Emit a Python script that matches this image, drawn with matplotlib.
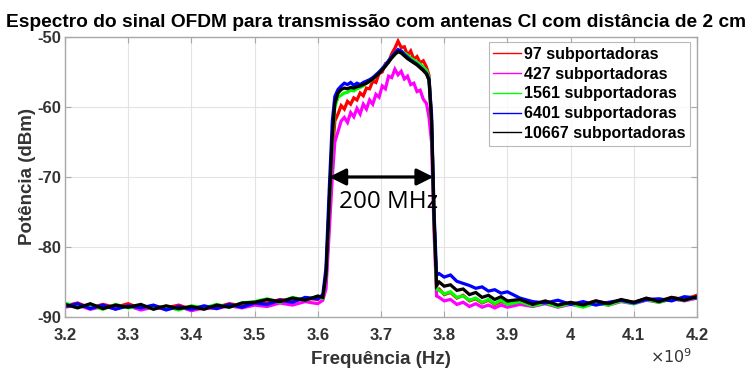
import matplotlib
matplotlib.use("Agg")
import matplotlib.pyplot as plt
from matplotlib.ticker import FuncFormatter, MultipleLocator

plt.rcParams['font.family'] = ['Liberation Sans', 'DejaVu Sans']
plt.rcParams['axes.unicode_minus'] = False

title = "Espectro do sinal OFDM para transmissão com antenas CI com distância de 2 cm"
xlabel = "Frequência (Hz)"
ylabel = "Potência (dBm)"
labels = ["97 subportadoras", "427 subportadoras", "1561 subportadoras",
          "6401 subportadoras", "10667 subportadoras"]
colors = ["#ff0000", "#ff00ff", "#00ff00", "#0000ff", "#000000"]

freq_ghz = [
    3.20, 3.22, 3.24, 3.26, 3.28, 3.30, 3.32, 3.34, 3.36, 3.38, 3.40, 3.42, 3.44,
    3.46, 3.48, 3.50, 3.52, 3.54, 3.56, 3.58, 3.60, 3.608,
    3.613, 3.618, 3.623, 3.627,
    3.632, 3.637, 3.642, 3.647, 3.652, 3.657, 3.662, 3.667, 3.672, 3.677, 3.682,
    3.687, 3.692, 3.697, 3.702, 3.707, 3.712, 3.717, 3.722, 3.727, 3.732, 3.737,
    3.742, 3.747, 3.752, 3.757, 3.762, 3.767, 3.772, 3.776,
    3.780, 3.784, 3.788,
    3.792, 3.80, 3.81, 3.82, 3.83, 3.84, 3.85, 3.86, 3.87, 3.88, 3.89, 3.90,
    3.92, 3.94, 3.96, 3.98, 4.00, 4.02, 4.04, 4.06, 4.08, 4.10, 4.12, 4.14,
    4.16, 4.18, 4.20,
]

p_97 = [
    -88.4, -88.0, -88.7, -88.2, -88.6, -88.1, -88.8, -88.4, -88.7, -88.3, -88.9,
    -88.5, -88.6, -88.1, -88.4, -87.9, -88.0, -87.5, -87.7, -87.3, -87.5, -87.0,
    -85.0, -76.0, -67.0, -62.0,
    -61.0, -59.8, -60.3, -59.2, -59.6, -58.7, -59.0, -58.0, -58.4, -57.3, -57.4,
    -56.3, -56.5, -55.2, -55.0, -53.8, -53.6, -52.4, -51.6, -50.6, -51.5, -51.4,
    -52.6, -52.0, -53.2, -52.8, -53.7, -53.4, -54.3, -55.5,
    -62.0, -76.0, -86.0,
    -86.0, -86.8, -86.5, -87.3, -86.9, -87.7, -87.4, -88.0, -87.6, -88.2, -87.8,
    -88.1, -88.0, -88.3, -87.9, -88.4, -88.0, -88.2, -87.7, -88.1, -87.6, -87.9,
    -87.4, -87.7, -87.2, -87.5, -86.9,
]
p_427 = [
    -88.6, -88.3, -88.9, -88.5, -88.8, -88.4, -89.0, -88.6, -88.9, -88.5, -89.1,
    -88.7, -88.8, -88.4, -88.7, -88.3, -88.5, -88.0, -88.3, -87.8, -88.1, -87.6,
    -86.0, -78.0, -70.0, -65.0,
    -63.5, -62.0, -61.5, -62.2, -60.8, -61.4, -60.2, -61.0, -59.6, -60.3, -59.0,
    -59.6, -58.2, -58.6, -57.0, -57.4, -55.6, -55.8, -54.6, -55.4, -54.9, -56.0,
    -55.6, -56.8, -56.6, -57.8, -57.6, -58.9, -59.5, -61.5,
    -65.0, -78.0, -87.0,
    -87.2, -87.7, -87.5, -88.2, -87.9, -88.5, -88.1, -88.6, -88.3, -88.7, -88.3,
    -88.6, -88.2, -88.5, -88.1, -88.6, -88.2, -88.5, -88.0, -88.3, -87.8, -88.1,
    -87.6, -87.9, -87.4, -87.7, -87.3,
]
p_1561 = [
    -88.0, -88.6, -88.3, -88.9, -88.2, -88.7, -88.4, -88.8, -88.5, -89.0, -88.4,
    -88.7, -88.2, -88.6, -88.0, -87.8, -87.4, -87.9, -87.2, -87.6, -87.1, -87.3,
    -84.0, -74.0, -65.0, -60.0,
    -58.6, -58.3, -58.0, -57.9, -57.6, -57.7, -57.4, -57.2, -57.0, -56.6, -56.4,
    -56.0, -55.5, -55.0, -54.6, -54.0, -53.4, -52.8, -52.3, -52.0, -52.0, -52.3,
    -52.6, -53.0, -53.3, -53.6, -53.9, -54.3, -54.8, -55.8,
    -62.0, -76.0, -86.0,
    -86.2, -86.7, -86.4, -87.2, -87.0, -87.6, -87.3, -87.9, -87.5, -88.1, -87.6,
    -88.2, -87.8, -88.4, -88.0, -88.5, -88.1, -88.6, -88.0, -88.3, -87.7, -88.1,
    -87.5, -87.9, -87.4, -87.6, -87.2,
]
p_6401 = [
    -88.5, -88.1, -88.8, -88.3, -88.9, -88.4, -88.7, -88.3, -89.0, -88.5, -88.9,
    -88.4, -88.8, -88.2, -88.6, -88.0, -88.2, -87.6, -87.9, -87.2, -87.4, -86.8,
    -83.0, -72.0, -62.0, -58.5,
    -57.5, -57.0, -56.6, -56.8, -56.5, -56.9, -56.6, -56.8, -56.5, -56.3, -56.1,
    -55.8, -55.4, -55.0, -54.5, -54.0, -53.4, -52.8, -52.3, -51.8, -52.0, -52.5,
    -52.9, -53.3, -53.6, -53.9, -54.3, -54.7, -55.2, -56.0,
    -61.0, -75.0, -84.0,
    -83.8, -84.3, -84.0, -84.9, -85.2, -85.5, -85.9, -85.7, -86.3, -86.1, -86.6,
    -86.4, -87.3, -87.8, -88.0, -87.6, -88.2, -87.8, -88.3, -87.9, -87.6, -88.0,
    -87.5, -87.4, -87.7, -87.1, -87.3,
]
p_10667 = [
    -88.2, -88.7, -88.1, -88.8, -88.3, -88.6, -88.2, -88.9, -88.4, -88.8, -88.5,
    -88.9, -88.3, -88.6, -88.0, -87.9, -87.5, -87.8, -87.3, -87.6, -87.0, -87.2,
    -84.0, -74.0, -64.0, -59.5,
    -58.0, -57.5, -57.3, -57.4, -57.2, -57.3, -57.1, -57.0, -56.8, -56.6, -56.3,
    -56.0, -55.6, -55.2, -54.7, -54.2, -53.6, -53.0, -52.5, -52.1, -52.3, -52.7,
    -53.1, -53.4, -53.7, -54.0, -54.4, -54.8, -55.3, -56.2,
    -62.0, -76.0, -85.5,
    -85.0, -85.6, -85.4, -86.2, -86.0, -86.8, -86.5, -87.2, -86.9, -87.5, -87.1,
    -87.7, -87.5, -88.2, -87.7, -88.3, -87.9, -88.3, -87.7, -88.1, -87.5, -87.9,
    -87.3, -87.8, -87.2, -87.6, -87.1,
]
series = [p_97, p_427, p_1561, p_6401, p_10667]

bw_start_ghz, bw_end_ghz, bw_level = 3.618, 3.783, -70
bw_label = "200 MHz"

fig = plt.figure(figsize=(7.53, 3.68), dpi=100)
ax = fig.add_axes([0.0863, 0.1386, 0.8393, 0.7609])

f_hz = [f * 1e9 for f in freq_ghz]
for vals, c, lab in zip(series, colors, labels):
    ax.plot(f_hz, vals, color=c, lw=2.3, label=lab, solid_joinstyle='miter')

ax.set_xlim(3.2e9, 4.2e9)
ax.set_ylim(-90, -50)
ax.xaxis.set_major_locator(MultipleLocator(0.1e9))
ax.yaxis.set_major_locator(MultipleLocator(10))
ax.xaxis.set_major_formatter(FuncFormatter(lambda v, p: f"{v/1e9:g}"))
ax.grid(True, color="#e3e3e3", lw=0.8)
ax.set_axisbelow(True)
for s in ax.spines.values():
    s.set_color("#a8a8a8")
    s.set_linewidth(1.0)
ax.tick_params(direction='in', length=4, color="#a8a8a8", labelcolor="#333333",
               labelsize=12, top=True, right=True)
ax.tick_params(axis='x', pad=8)
ax.tick_params(axis='y', pad=3)
for t in ax.get_xticklabels() + ax.get_yticklabels():
    t.set_fontweight('bold')

ax.set_xlabel(xlabel, fontsize=13.5, fontweight='bold', color="#333333", labelpad=6)
ax.set_ylabel(ylabel, fontsize=13.5, fontweight='bold', color="#333333", labelpad=1)
ax.text(0.992, -0.163, r"$\times10^{9}$", transform=ax.transAxes, ha='right',
        va='baseline', fontsize=11.5, color="#333333")

fig.text(0.5, 0.94, title, ha='center', va='center', fontsize=13.8,
         fontweight='bold', color="#000000")

ax.annotate("", xy=(bw_end_ghz * 1e9, bw_level), xytext=(bw_start_ghz * 1e9, bw_level),
            arrowprops=dict(arrowstyle='<|-|>,head_length=1.0,head_width=0.5',
                            color='black', lw=2.3, shrinkA=0, shrinkB=0))
ax.text(3.7127e9, -73.6, bw_label, ha='center', va='center', fontsize=17.5,
        family=['Open Sans', 'DejaVu Sans'])

leg = ax.legend(loc='upper right', bbox_to_anchor=(0.989, 0.982),
                prop={'weight': 'bold', 'size': 11.5}, frameon=True, fancybox=False,
                handlelength=1.7, handletextpad=0.2, borderpad=0.3,
                labelspacing=0.3, borderaxespad=0)
leg.get_frame().set_edgecolor("#a8a8a8")
leg.get_frame().set_linewidth(0.8)
for h in leg.get_lines():
    h.set_linewidth(1.0)

fig.savefig("out.png", dpi=100)
